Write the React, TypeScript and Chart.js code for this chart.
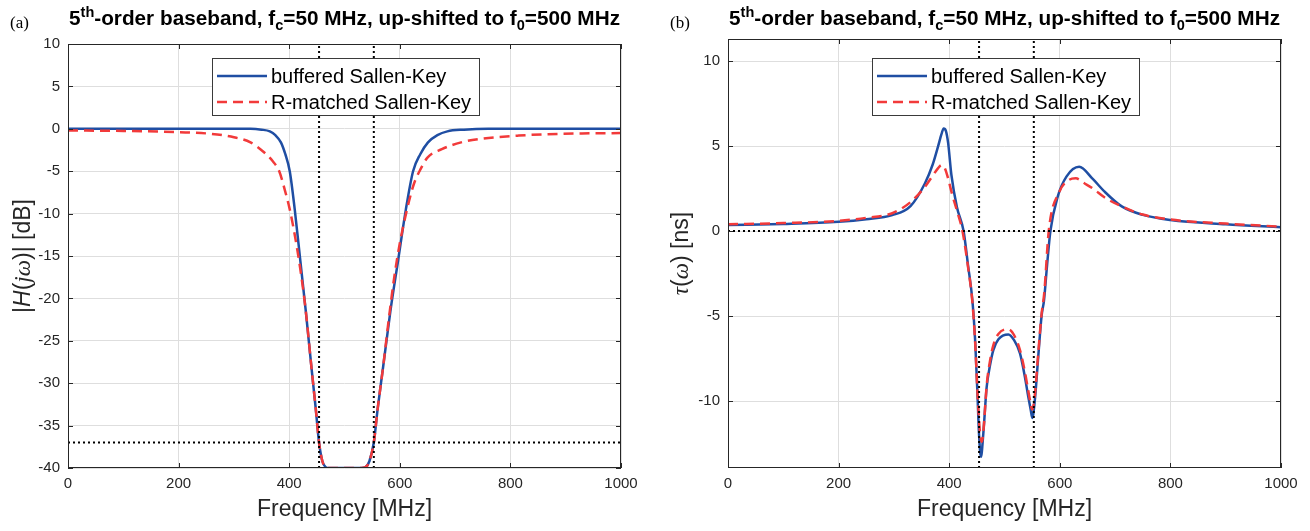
import React, { useEffect, useRef } from "react";
import { Chart, registerables } from "chart.js";

Chart.register(...registerables);

// ---------------- data ----------------
const xTicks = [0, 200, 400, 600, 800, 1000];
const xRange = [0, 1000];

// panel (a): magnitude [dB]
const yTicksA = [-40, -35, -30, -25, -20, -15, -10, -5, 0, 5, 10];
const yRangeA = [-40, 10];
const magBlueFreq = [0, 100, 200, 300, 330, 350, 365, 375, 385, 393, 401, 410, 420, 430, 440, 448, 454, 460, 466, 472, 500, 530, 538, 545, 553, 560, 570, 583, 597, 611, 624, 637, 651, 668, 686, 716, 760, 850, 1000];
const magBlue = [0, 0, 0, 0, 0, -0.1, -0.3, -0.75, -1.6, -3.0, -5, -9.5, -15.5, -21.5, -28, -33, -37, -39.2, -39.9, -40, -40, -40, -39.9, -39.2, -37, -33, -28, -21.5, -15.5, -9.5, -5, -3.0, -1.6, -0.75, -0.3, -0.1, 0, 0, 0];
const magRedFreq = [0, 100, 200, 260, 300, 330, 355, 370, 382, 392, 401, 410, 420, 430, 440, 448, 454, 460, 466, 472, 500, 530, 538, 545, 553, 560, 570, 580, 590, 600, 612, 625, 638, 650, 676, 711, 745, 815, 885, 1000];
const magRed = [-0.2, -0.25, -0.4, -0.6, -1.0, -1.6, -2.8, -3.8, -5, -7.2, -9.5, -12.5, -16.5, -21.5, -28, -33, -37, -39.2, -39.9, -40, -40, -40, -39.9, -39.2, -37, -33, -28, -22.5, -17.5, -13.5, -9.8, -6.6, -4.7, -3.4, -2.4, -1.6, -1.2, -0.8, -0.6, -0.5];
const edgeFreqs = [454, 553];
const levelA = -37;

// panel (b): group delay [ns]
const yTicksB = [-10, -5, 0, 5, 10];
const yRangeB = [-13.94, 11.3];
const delayBlueFreq = [0, 100, 200, 250, 297, 330, 356, 370, 380, 386, 390, 394, 398, 404, 414, 426, 434, 442, 447, 451, 454, 457.5, 461.7, 467.7, 473.8, 479.8, 489, 507, 517, 528, 537, 543, 547.3, 550.3, 555, 561, 567, 571.5, 577, 583, 596, 612, 635, 660, 680, 712, 750, 800, 900, 1000];
const delayBlue = [0.35, 0.42, 0.55, 0.7, 0.94, 1.47, 2.8, 3.9, 5.0, 5.7, 6.04, 5.9, 5.2, 3.3, 1.4, 0, -2.0, -4.1, -6.5, -9.5, -12.0, -13.28, -11.9, -9.2, -7.9, -7.0, -6.37, -6.08, -6.4, -7.2, -8.6, -9.75, -10.5, -11.0, -9.9, -7.4, -5.0, -4.06, -2.0, 0, 2.0, 3.2, 3.78, 3.05, 2.35, 1.45, 0.95, 0.65, 0.4, 0.22];
const delayRedFreq = [0, 100, 200, 250, 297, 330, 356, 370, 380, 386, 392, 398, 405, 414, 424, 434, 442, 447, 451, 455, 459, 462, 468, 474, 480, 489, 507, 517, 528, 537, 543, 547, 550, 555, 561, 567, 572, 580, 599, 616, 629, 645, 660, 680, 712, 750, 800, 900, 1000];
const delayRed = [0.4, 0.47, 0.6, 0.78, 1.05, 1.7, 2.6, 3.25, 3.7, 3.88, 3.7, 3.1, 2.2, 1.2, 0, -2.1, -4.2, -6.6, -9.4, -11.6, -12.4, -11.7, -9.0, -7.6, -6.7, -6.05, -5.77, -6.1, -7.0, -8.3, -9.4, -10.1, -10.5, -9.6, -7.2, -4.9, -3.6, 0, 2.3, 3.0, 3.1, 2.8, 2.5, 2.0, 1.45, 0.97, 0.68, 0.44, 0.26];
const levelB = 0;

const seriesNames = ["buffered Sallen-Key", "R-matched Sallen-Key"];

// ---------------- styles ----------------
const SANS = "'Liberation Sans', Arial, Helvetica, sans-serif";
const SERIF = "'Liberation Serif', 'Times New Roman', serif";
const INK = "#262626";
const BLUE = "#1f4ea3";
const RED = "#f23a3a";
const GRID = "#dedede";
const DOT = [2, 3];
const DASH = [10, 6];

const W = 655;
const H = 531;

type Piece = { t: string; font: string; dy?: number };

function piecesWidth(ctx: CanvasRenderingContext2D, pieces: Piece[]) {
  let total = 0;
  for (const p of pieces) {
    ctx.font = p.font;
    total += ctx.measureText(p.t).width;
  }
  return total;
}

function drawPieces(ctx: CanvasRenderingContext2D, pieces: Piece[], x: number, y: number, align: "center" | "left") {
  const total = piecesWidth(ctx, pieces);
  let cx = align === "center" ? x - total / 2 : x;
  ctx.textBaseline = "alphabetic";
  ctx.textAlign = "left";
  for (const p of pieces) {
    ctx.font = p.font;
    ctx.fillText(p.t, cx, y + (p.dy || 0));
    cx += ctx.measureText(p.t).width;
  }
}

type PanelCfg = {
  label: string;
  yTicks: number[];
  yRange: number[];
  blueF: number[];
  blueV: number[];
  redF: number[];
  redV: number[];
  level: number;
  padLeft: number;
  padTop: number;
  padRight: number;
  yTitle: Piece[];
  yTitleX: number;
};

function makePlugin(cfg: PanelCfg) {
  return {
    id: "decor" + cfg.label,
    afterDraw(chart: any) {
      const { ctx, chartArea: a } = chart;
      const xs = chart.scales.x;
      const ys = chart.scales.y;
      ctx.save();
      // axes box
      ctx.strokeStyle = INK;
      ctx.lineWidth = 1;
      ctx.setLineDash([]);
      ctx.strokeRect(a.left + 0.5, a.top + 0.5, a.right - a.left - 1, a.bottom - a.top - 1);
      // inner ticks
      ctx.beginPath();
      for (const v of xTicks) {
        const px = Math.round(xs.getPixelForValue(v)) + 0.5;
        ctx.moveTo(px, a.bottom);
        ctx.lineTo(px, a.bottom - 5);
        ctx.moveTo(px, a.top);
        ctx.lineTo(px, a.top + 5);
      }
      for (const v of cfg.yTicks) {
        const py = Math.round(ys.getPixelForValue(v)) + 0.5;
        ctx.moveTo(a.left, py);
        ctx.lineTo(a.left + 5, py);
        ctx.moveTo(a.right, py);
        ctx.lineTo(a.right - 5, py);
      }
      ctx.stroke();

      // panel label
      ctx.fillStyle = "#000";
      ctx.font = `17px ${SERIF}`;
      ctx.textAlign = "left";
      ctx.textBaseline = "alphabetic";
      ctx.fillText(cfg.label, a.left - 58, 28);

      // title
      const big = `bold 20px ${SANS}`;
      const small = `bold 14px ${SANS}`;
      const title: Piece[] = [
        { t: "5", font: big },
        { t: "th", font: small, dy: -8 },
        { t: "-order baseband, f", font: big },
        { t: "c", font: small, dy: 5 },
        { t: "=50 MHz, up-shifted to f", font: big },
        { t: "0", font: small, dy: 5 },
        { t: "=500 MHz", font: big },
      ];
      const total = piecesWidth(ctx, title);
      const target = 551;
      const sx = target / total;
      ctx.save();
      ctx.translate((a.left + a.right) / 2 - target / 2, 25);
      ctx.scale(sx, 1);
      ctx.fillStyle = "#000";
      drawPieces(ctx, title, 0, 0, "left");
      ctx.restore();

      // x title
      ctx.fillStyle = INK;
      ctx.font = `23px ${SANS}`;
      ctx.textAlign = "center";
      ctx.textBaseline = "middle";
      ctx.fillText("Frequency [MHz]", (a.left + a.right) / 2, 510);

      // y title
      ctx.save();
      ctx.translate(cfg.yTitleX, (a.top + a.bottom) / 2);
      ctx.rotate(-Math.PI / 2);
      ctx.fillStyle = INK;
      drawPieces(ctx, cfg.yTitle, 0, 8, "center");
      ctx.restore();

      // legend
      const lx = a.left + 144;
      const ly = 58;
      const lw = 267;
      const lh = 57;
      ctx.fillStyle = "#fff";
      ctx.fillRect(lx, ly, lw, lh);
      ctx.strokeStyle = "#3a3a3a";
      ctx.lineWidth = 1;
      ctx.setLineDash([]);
      ctx.strokeRect(lx + 0.5, ly + 0.5, lw, lh);
      const rows = [
        { name: seriesNames[0], color: BLUE, dash: [] as number[] },
        { name: seriesNames[1], color: RED, dash: DASH },
      ];
      rows.forEach((r, i) => {
        const yy = ly + 18 + i * 26;
        ctx.strokeStyle = r.color;
        ctx.lineWidth = 2.5;
        ctx.setLineDash(r.dash);
        ctx.beginPath();
        ctx.moveTo(lx + 5, yy);
        ctx.lineTo(lx + 55, yy);
        ctx.stroke();
        ctx.setLineDash([]);
        ctx.fillStyle = "#000";
        ctx.font = `20px ${SANS}`;
        ctx.textAlign = "left";
        ctx.textBaseline = "middle";
        ctx.fillText(r.name, lx + 59, yy + 1);
      });
      ctx.restore();
    },
  };
}

function toPts(f: number[], v: number[]) {
  return f.map((x, i) => ({ x, y: v[i] }));
}

function Panel({ cfg, left }: { cfg: PanelCfg; left: number }) {
  const ref = useRef<HTMLCanvasElement | null>(null);
  useEffect(() => {
    if (!ref.current) return;
    const [ymin, ymax] = cfg.yRange;
    const dotted = (data: any[]) => ({
      data,
      borderColor: "#000",
      borderWidth: 2,
      borderDash: DOT,
      pointRadius: 0,
      fill: false,
      tension: 0,
      order: 0,
    });
    const chart = new Chart(ref.current, {
      type: "line",
      data: {
        datasets: [
          dotted([{ x: edgeFreqs[0], y: ymin }, { x: edgeFreqs[0], y: ymax }]),
          dotted([{ x: edgeFreqs[1], y: ymin }, { x: edgeFreqs[1], y: ymax }]),
          dotted([{ x: xRange[0], y: cfg.level }, { x: xRange[1], y: cfg.level }]),
          {
            label: seriesNames[1],
            data: toPts(cfg.redF, cfg.redV),
            borderColor: RED,
            borderWidth: 2.5,
            borderDash: DASH,
            pointRadius: 0,
            fill: false,
            cubicInterpolationMode: "monotone",
            order: 1,
          },
          {
            label: seriesNames[0],
            data: toPts(cfg.blueF, cfg.blueV),
            borderColor: BLUE,
            borderWidth: 2.5,
            pointRadius: 0,
            fill: false,
            cubicInterpolationMode: "monotone",
            order: 2,
          },
        ] as any,
      },
      options: {
        responsive: false,
        animation: false,
        devicePixelRatio: 1,
        layout: { padding: { left: 0, top: cfg.padTop, right: cfg.padRight, bottom: 0 } },
        plugins: { legend: { display: false }, title: { display: false }, tooltip: { enabled: false } },
        events: [],
        scales: {
          x: {
            type: "linear",
            min: xRange[0],
            max: xRange[1],
            afterBuildTicks: (s: any) => {
              s.ticks = xTicks.map((v) => ({ value: v }));
            },
            afterFit: (s: any) => {
              s.height = H - 468;
            },
            grid: { color: GRID, lineWidth: 1, drawTicks: false },
            border: { display: false },
            ticks: {
              color: INK,
              font: { family: SANS, size: 15 },
              padding: 7,
              maxRotation: 0,
              callback: (v: any) => String(v),
            },
          },
          y: {
            type: "linear",
            min: ymin,
            max: ymax,
            afterBuildTicks: (s: any) => {
              s.ticks = cfg.yTicks.map((v) => ({ value: v }));
            },
            afterFit: (s: any) => {
              s.width = cfg.padLeft;
            },
            grid: { color: GRID, lineWidth: 1, drawTicks: false },
            border: { display: false },
            ticks: { color: INK, font: { family: SANS, size: 15 }, padding: 8, callback: (v: any) => String(v) },
          },
        },
      } as any,
      plugins: [makePlugin(cfg)],
    });
    return () => chart.destroy();
  }, []);
  return (
    <canvas
      ref={ref}
      width={W}
      height={H}
      style={{ position: "absolute", left, top: 0, width: W, height: H, display: "block" }}
    />
  );
}

const panelA: PanelCfg = {
  label: "(a)",
  yTicks: yTicksA,
  yRange: yRangeA,
  blueF: magBlueFreq,
  blueV: magBlue,
  redF: magRedFreq,
  redV: magRed,
  level: levelA,
  padLeft: 68,
  padTop: 44,
  padRight: W - 621,
  yTitle: [
    { t: "|", font: `23px ${SANS}` },
    { t: "H", font: `italic 23px ${SANS}` },
    { t: "(", font: `23px ${SANS}` },
    { t: "j", font: `italic 23px ${SERIF}` },
    { t: "ω", font: `italic 23px ${SERIF}` },
    { t: ")| [dB]", font: `23px ${SANS}` },
  ],
  yTitleX: 22,
};

const panelB: PanelCfg = {
  label: "(b)",
  yTicks: yTicksB,
  yRange: yRangeB,
  blueF: delayBlueFreq,
  blueV: delayBlue,
  redF: delayRedFreq,
  redV: delayRed,
  level: levelB,
  padLeft: 728 - W,
  padTop: 39,
  padRight: W - (1281 - W),
  yTitle: [
    { t: "τ", font: `italic 23px ${SERIF}` },
    { t: "(", font: `23px ${SANS}` },
    { t: "ω", font: `italic 23px ${SERIF}` },
    { t: ") [ns]", font: `23px ${SANS}` },
  ],
  yTitleX: 680 - W,
};

export default function App() {
  return (
    <div style={{ position: "fixed", left: 0, top: 0, width: 1310, height: 531, background: "#fff" }}>
      <Panel cfg={panelA} left={0} />
      <Panel cfg={panelB} left={W} />
    </div>
  );
}
